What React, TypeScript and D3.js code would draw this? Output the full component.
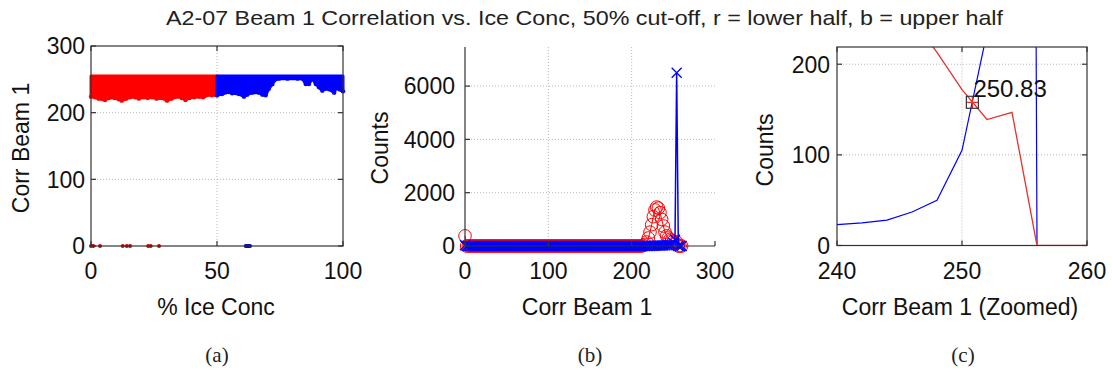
import React from "react";
import * as d3 from "d3";

const W = 1112;
const H = 371;

const titleText =
  "A2-07 Beam 1 Correlation vs. Ice Conc, 50% cut-off, r = lower half, b = upper half";

// (a) scatter band: lower edge of the point cloud per ice concentration
const redConc = [0, 1.6, 3, 5.6, 7, 9.5, 11, 12.2, 14, 15.5, 17.5, 19, 21, 22.5, 24.2, 26, 28, 30.2, 32, 34.9, 36, 37.5, 39, 41, 42.9, 44.5, 46.8, 48, 49.4, 50];
const redLow = [224, 223, 221, 219, 222, 222, 220, 218, 221, 223, 223, 221, 223, 222, 223, 221, 222, 218, 221, 224, 222, 219, 222, 223, 224, 223, 227, 226, 227, 226];
const blueConc = [50, 52, 54.7, 56, 58.7, 60.7, 62, 64, 66.7, 68, 69.3, 70.6, 72, 72.6, 74.6, 78, 82, 83.9, 85.2, 86.5, 87.8, 89.2, 90.5, 91.8, 93, 94.5, 96.5, 97.8, 98.5, 100];
const blueLow = [226, 228, 231, 229, 228, 224, 227, 230, 230, 227, 226, 236, 243, 248, 251, 251, 251, 251, 243, 243, 251, 243, 238, 233, 236, 235, 230, 241, 235, 232];
const bandTop = 255;
// samples with zero correlation
const redZeroConc = [0, 0.9, 3.6, 12.6, 14.2, 15.5, 22.7, 23.7, 27];
const blueZeroConc = [61.4, 62, 62.5, 63.1];

// (b)/(c) histogram counts, bins 0, 2, 4, ... 260
const redCounts = [
  380,
  0, 0, 0, 0, 0, 0, 0, 0, 0, 0,
  0, 0, 0, 0, 0, 0, 0, 0, 0, 0,
  0, 0, 0, 0, 0, 0, 0, 0, 0, 0,
  0, 0, 0, 0, 0, 0, 0, 0, 0, 0,
  0, 0, 0, 0, 0, 0, 0, 0, 0, 0,
  0, 0, 0, 0, 0, 0, 0, 0, 0, 0,
  0, 0, 0, 0, 0, 0, 0, 0, 0, 0,
  0, 0, 0, 0, 0, 0, 0, 0, 0, 0,
  0, 0, 0, 0, 0, 0, 0, 0, 0, 0,
  0, 0, 0, 0, 0, 0, 0, 0, 0, 0,
  0, 0, 0, 0, 0, 0,
  20, 60, 150, 300, 520, 800, 1100, 1350, 1460, 1420, 1250, 1000,
  750, 520, 380, 300, 250, 213, 172, 139, 147, 0, 0, 0,
];
const blueCounts = [
  30,
  0, 0, 0, 0, 0, 0, 0, 0, 0, 0,
  0, 0, 0, 0, 0, 0, 0, 0, 0, 0,
  0, 0, 0, 0, 0, 0, 0, 0, 0, 0,
  0, 0, 0, 0, 0, 0, 0, 0, 0, 0,
  0, 0, 0, 0, 0, 0, 0, 0, 0, 0,
  0, 0, 0, 0, 0, 0, 0, 0, 0, 0,
  0, 0, 0, 0, 0, 0, 0, 0, 0, 0,
  0, 0, 0, 0, 0, 0, 0, 0, 0, 0,
  0, 0, 0, 0, 0, 0, 0, 0, 0, 0,
  0, 0, 0, 0, 0, 0, 0, 0, 0, 0,
  0, 0, 0, 0, 0, 0, 0, 0, 0, 0,
  0,
  4, 8, 12, 14, 16, 18, 20, 21, 23, 25, 28, 37, 50, 105, 235, 6500, 0, 0, 0,
];
const binStep = 2;
const bins = redCounts.map((_, i) => i * binStep);

const crossingX = 250.83;
const crossingCount = 158;

const ticksA_x = [0, 50, 100];
const ticksA_y = [0, 100, 200, 300];
const ticksB_x = [0, 100, 200, 300];
const ticksB_y = [0, 2000, 4000, 6000];
const ticksC_x = [240, 250, 260];
const ticksC_y = [0, 100, 200];

const RED = "#ff0000";
const BLUE = "#0000ff";
const AXIS = "#333";
const GRID = "#b8b8b8";
const FONT = "'Liberation Sans', Arial, Helvetica, sans-serif";
const TICK_FS = 23;

type Lin = d3.ScaleLinear<number, number>;

function Grid({ x, y, gx, gy }: { x: Lin; y: Lin; gx: number[]; gy: number[] }) {
  const [x0, x1] = x.range();
  const [y0, y1] = y.range();
  return (
    <g stroke={GRID} strokeWidth={1} strokeDasharray="1,2">
      {gx.map((v) => (
        <line key={"gx" + v} x1={x(v)} x2={x(v)} y1={y0} y2={y1} />
      ))}
      {gy.map((v) => (
        <line key={"gy" + v} x1={x0} x2={x1} y1={y(v)} y2={y(v)} />
      ))}
    </g>
  );
}

function Axes({
  x, y, tx, ty, box, labelRight,
}: { x: Lin; y: Lin; tx: number[]; ty: number[]; box: boolean; labelRight: number }) {
  const [x0, x1] = x.range();
  const [y0, y1] = y.range();
  const tl = 5;
  return (
    <g>
      <g stroke={AXIS} strokeWidth={1.2} fill="none">
        {box ? (
          <rect x={x0} y={y1} width={x1 - x0} height={y0 - y1} />
        ) : (
          <path d={`M${x0},${y1}V${y0}H${x1}`} />
        )}
        {tx.map((v) => (
          <g key={"tx" + v}>
            <line x1={x(v)} x2={x(v)} y1={y0} y2={y0 - tl} />
            {box && <line x1={x(v)} x2={x(v)} y1={y1} y2={y1 + tl} />}
          </g>
        ))}
        {ty.map((v) => (
          <g key={"ty" + v}>
            <line x1={x0} x2={x0 + tl} y1={y(v)} y2={y(v)} />
            {box && <line x1={x1} x2={x1 - tl} y1={y(v)} y2={y(v)} />}
          </g>
        ))}
      </g>
      <g fontFamily={FONT} fontSize={TICK_FS} fill="#111">
        {tx.map((v) => (
          <text key={"lx" + v} x={x(v)} y={279} textAnchor="middle">
            {v}
          </text>
        ))}
        {ty.map((v) => (
          <text key={"ly" + v} x={labelRight} y={y(v)} dy="0.36em" textAnchor="end">
            {v}
          </text>
        ))}
      </g>
    </g>
  );
}

function App() {
  // scales for the three panels
  const xA = d3.scaleLinear().domain([0, 100]).range([91, 343]);
  const yA = d3.scaleLinear().domain([0, 300]).range([246, 46]);
  const xB = d3.scaleLinear().domain([0, 300]).range([465, 715]);
  const yB = d3.scaleLinear().domain([0, 7466]).range([246, 47]);
  const xC = d3.scaleLinear().domain([240, 260]).range([837, 1087]);
  const yC = d3.scaleLinear().domain([0, 219]).range([245.5, 47]);

  const bandArea = (cx: number[], low: number[]) =>
    d3
      .area<number>()
      .x((_, i) => xA(cx[i]))
      .y0((_, i) => yA(low[i]))
      .y1(() => yA(bandTop))(low) as string;

  const lineB = (counts: number[]) =>
    d3
      .line<number>()
      .x((_, i) => xB(bins[i]))
      .y((d) => yB(d))(counts) as string;
  const lineC = (counts: number[]) =>
    d3
      .line<number>()
      .x((_, i) => xC(bins[i]))
      .y((d) => yC(d))(counts) as string;

  const xs = 5;
  const cx0 = xC(crossingX);
  const cy0 = yC(crossingCount);

  return (
    <svg
      width={W}
      height={H}
      viewBox={`0 0 ${W} ${H}`}
      style={{ position: "absolute", left: 0, top: 0, background: "#fff" }}
    >
      <defs>
        <clipPath id="clipC">
          <rect x={837} y={47} width={250} height={197.8} />
        </clipPath>
      </defs>

      <text
        x={584.5}
        y={25}
        textAnchor="middle"
        fontFamily={FONT}
        fontSize={21}
        fill="#222"
        textLength={837}
        lengthAdjust="spacingAndGlyphs"
      >
        {titleText}
      </text>

      {/* (a) correlation vs ice concentration */}
      <Grid x={xA} y={yA} gx={[50]} gy={[100, 200]} />
      <g>
        <path d={bandArea(redConc, redLow)} fill={RED} stroke={RED} strokeWidth={3} strokeLinejoin="round" />
        {redConc.map((c, i) => (
          <circle key={"rl" + i} cx={xA(c)} cy={yA(redLow[i])} r={2.2} fill={RED} />
        ))}
        <path d={bandArea(blueConc, blueLow)} fill={BLUE} stroke={BLUE} strokeWidth={3} strokeLinejoin="round" />
        {blueConc.map((c, i) => (
          <circle key={"bl" + i} cx={xA(c)} cy={yA(blueLow[i])} r={2.2} fill={BLUE} />
        ))}
        {redZeroConc.map((c, i) => (
          <circle key={"rz" + i} cx={xA(c)} cy={yA(0)} r={2} fill="#d00000" />
        ))}
        {blueZeroConc.map((c, i) => (
          <circle key={"bz" + i} cx={xA(c)} cy={yA(0)} r={2} fill="#0000c0" />
        ))}
      </g>
      <Axes x={xA} y={yA} tx={ticksA_x} ty={ticksA_y} box={true} labelRight={85} />
      <text x={216} y={315} textAnchor="middle" fontFamily={FONT} fontSize={TICK_FS} fill="#111">
        % Ice Conc
      </text>
      <text transform="translate(29,148) rotate(-90)" textAnchor="middle" fontFamily={FONT} fontSize={TICK_FS} fill="#111">
        Corr Beam 1
      </text>

      {/* (b) histograms */}
      <Grid x={xB} y={yB} gx={[100, 200]} gy={[2000, 4000, 6000]} />
      <g>
        <path d={lineB(redCounts)} fill="none" stroke={RED} strokeWidth={1} />
        {redCounts.map((d, i) => (
          <circle key={"rc" + i} cx={xB(bins[i])} cy={yB(d)} r={6.3} fill="none" stroke={RED} strokeWidth={1} />
        ))}
        <path d={lineB(blueCounts)} fill="none" stroke={BLUE} strokeWidth={1.5} />
        {blueCounts.map((d, i) => {
          const cx = xB(bins[i]);
          const cy = yB(d);
          return (
            <path
              key={"bx" + i}
              d={`M${cx - xs},${cy - xs}L${cx + xs},${cy + xs}M${cx - xs},${cy + xs}L${cx + xs},${cy - xs}`}
              stroke={BLUE}
              strokeWidth={1.3}
              fill="none"
            />
          );
        })}
      </g>
      <Axes x={xB} y={yB} tx={ticksB_x} ty={ticksB_y} box={false} labelRight={455} />
      <text x={587} y={315} textAnchor="middle" fontFamily={FONT} fontSize={TICK_FS} fill="#111">
        Corr Beam 1
      </text>
      <text transform="translate(388,148) rotate(-90)" textAnchor="middle" fontFamily={FONT} fontSize={TICK_FS} fill="#111">
        Counts
      </text>

      {/* (c) zoom around the crossing */}
      <Grid x={xC} y={yC} gx={[250]} gy={[100, 200]} />
      <g clipPath="url(#clipC)">
        <path d={lineC(blueCounts)} fill="none" stroke={BLUE} strokeWidth={1.2} />
        <path d={lineC(redCounts)} fill="none" stroke="#e8302c" strokeWidth={1.3} />
      </g>
      <path
        d={`M${cx0 - 6},${cy0}H${cx0 + 6}M${cx0},${cy0 - 6}V${cy0 + 6}`}
        stroke="#e8302c"
        strokeWidth={1.2}
      />
      <rect x={cx0 - 6} y={cy0 - 6} width={12} height={12} fill="none" stroke="#333" strokeWidth={1.2} />
      <text x={cx0 + 1} y={97} fontFamily={FONT} fontSize={24} fill="#111">
        {crossingX.toFixed(2)}
      </text>
      <Axes x={xC} y={yC} tx={ticksC_x} ty={ticksC_y} box={true} labelRight={830} />
      <text x={960} y={315} textAnchor="middle" fontFamily={FONT} fontSize={TICK_FS} fill="#111">
        Corr Beam 1 (Zoomed)
      </text>
      <text transform="translate(773,150) rotate(-90)" textAnchor="middle" fontFamily={FONT} fontSize={TICK_FS} fill="#111">
        Counts
      </text>

      {/* captions */}
      <g fontFamily="'Liberation Serif', 'DejaVu Serif', serif" fontSize={21} fill="#222" textAnchor="middle">
        <text x={217} y={362}>(a)</text>
        <text x={590} y={362}>(b)</text>
        <text x={963} y={362}>(c)</text>
      </g>
    </svg>
  );
}

export default App;
